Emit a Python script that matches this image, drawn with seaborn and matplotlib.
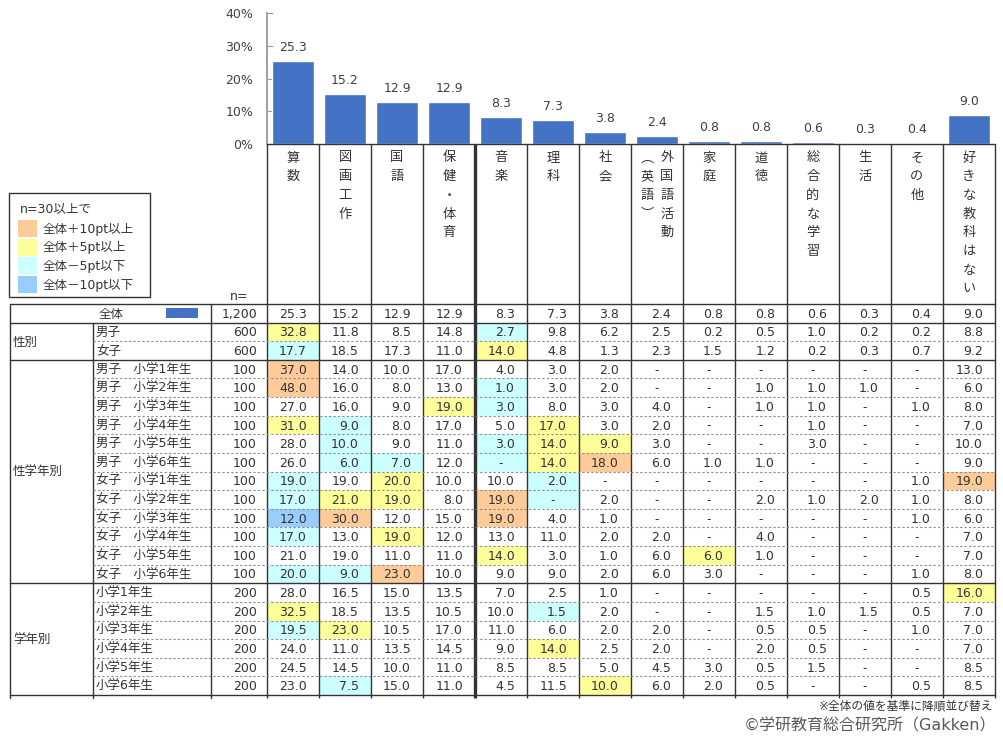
import numpy as np
import matplotlib
matplotlib.use("Agg")
import matplotlib.pyplot as plt
from matplotlib.colors import ListedColormap
from matplotlib.patches import Rectangle
import seaborn as sns

N = np.nan  # "-" in the table

# ---------------- data ----------------
subjects = ['算数', '図画工作', '国語', '保健・体育', '音楽', '理科', '社会',
            '外国語活動（英語）', '家庭', '道徳', '総合的な学習', '生活', 'その他',
            '好きな教科はない']
# vertical header text, one string per text column (right to left)
header_cols = [['算数'], ['図画工作'], ['国語'], ['保健・体育'], ['音楽'], ['理科'],
               ['社会'], ['外国語活動', '︵英語︶'], ['家庭'], ['道徳'], ['総合的な学習'],
               ['生活'], ['その他'], ['好きな教科はない']]

overall = [25.3, 15.2, 12.9, 12.9, 8.3, 7.3, 3.8, 2.4, 0.8, 0.8, 0.6, 0.3, 0.4, 9.0]
overall_n = 1200

gender_labels = ['男子', '女子']
gender_n = [600, 600]
gender_vals = [
    [32.8, 11.8, 8.5, 14.8, 2.7, 9.8, 6.2, 2.5, 0.2, 0.5, 1.0, 0.2, 0.2, 8.8],
    [17.7, 18.5, 17.3, 11.0, 14.0, 4.8, 1.3, 2.3, 1.5, 1.2, 0.2, 0.3, 0.7, 9.2],
]

gg_labels = ['男子　小学1年生', '男子　小学2年生', '男子　小学3年生', '男子　小学4年生',
             '男子　小学5年生', '男子　小学6年生', '女子　小学1年生', '女子　小学2年生',
             '女子　小学3年生', '女子　小学4年生', '女子　小学5年生', '女子　小学6年生']
gg_n = [100] * 12
gg_vals = [
    [37.0, 14.0, 10.0, 17.0, 4.0, 3.0, 2.0, N, N, N, N, N, N, 13.0],
    [48.0, 16.0, 8.0, 13.0, 1.0, 3.0, 2.0, N, N, 1.0, 1.0, 1.0, N, 6.0],
    [27.0, 16.0, 9.0, 19.0, 3.0, 8.0, 3.0, 4.0, N, 1.0, 1.0, N, 1.0, 8.0],
    [31.0, 9.0, 8.0, 17.0, 5.0, 17.0, 3.0, 2.0, N, N, 1.0, N, N, 7.0],
    [28.0, 10.0, 9.0, 11.0, 3.0, 14.0, 9.0, 3.0, N, N, 3.0, N, N, 10.0],
    [26.0, 6.0, 7.0, 12.0, N, 14.0, 18.0, 6.0, 1.0, 1.0, N, N, N, 9.0],
    [19.0, 19.0, 20.0, 10.0, 10.0, 2.0, N, N, N, N, N, N, 1.0, 19.0],
    [17.0, 21.0, 19.0, 8.0, 19.0, N, 2.0, N, N, 2.0, 1.0, 2.0, 1.0, 8.0],
    [12.0, 30.0, 12.0, 15.0, 19.0, 4.0, 1.0, N, N, N, N, N, 1.0, 6.0],
    [17.0, 13.0, 19.0, 12.0, 13.0, 11.0, 2.0, 2.0, N, 4.0, N, N, N, 7.0],
    [21.0, 19.0, 11.0, 11.0, 14.0, 3.0, 1.0, 6.0, 6.0, 1.0, N, N, N, 7.0],
    [20.0, 9.0, 23.0, 10.0, 9.0, 9.0, 2.0, 6.0, 3.0, N, N, N, 1.0, 8.0],
]

grade_labels = ['小学1年生', '小学2年生', '小学3年生', '小学4年生', '小学5年生', '小学6年生']
grade_n = [200] * 6
grade_vals = [
    [28.0, 16.5, 15.0, 13.5, 7.0, 2.5, 1.0, N, N, N, N, N, 0.5, 16.0],
    [32.5, 18.5, 13.5, 10.5, 10.0, 1.5, 2.0, N, N, 1.5, 1.0, 1.5, 0.5, 7.0],
    [19.5, 23.0, 10.5, 17.0, 11.0, 6.0, 2.0, 2.0, N, 0.5, 0.5, N, 1.0, 7.0],
    [24.0, 11.0, 13.5, 14.5, 9.0, 14.0, 2.5, 2.0, N, 2.0, 0.5, N, N, 7.0],
    [24.5, 14.5, 10.0, 11.0, 8.5, 8.5, 5.0, 4.5, 3.0, 0.5, 1.5, N, N, 8.5],
    [23.0, 7.5, 15.0, 11.0, 4.5, 11.5, 10.0, 6.0, 2.0, 0.5, N, N, 0.5, 8.5],
]

groups = [('性別', gender_labels, gender_n),
          ('性学年別', gg_labels, gg_n),
          ('学年別', grade_labels, grade_n)]

legend_labels = ['全体＋10pt以上', '全体＋5pt以上', '全体－5pt以下', '全体－10pt以下']
level_colors = ['#99CCFF', '#CCFFFF', '#FFFFFF', '#FFFF99', '#FFCC99']

# ---------------- layout (pixels) ----------------
W, H = 1004, 741
X0, CW = 267, 52                 # first subject column, column width
Y_TOP, Y_HDR, Y_TAB = 13, 144, 304
RH = 18.62
X_OUT, X_GRP, X_N = 10, 93, 211
LC = '#333333'
TC = '#333333'

sns.set_style('white')
plt.rcParams['font.family'] = ['DejaVu Sans', 'Noto Sans CJK JP']

fig = plt.figure(figsize=(W / 100, H / 100), dpi=100)

# ---------------- bar chart ----------------
bax = fig.add_axes([X0 / W, (H - Y_HDR) / H, CW * 14 / W, (Y_HDR - Y_TOP) / H])
sns.barplot(x=subjects, y=overall, color='#4472C4', saturation=1, width=0.79, ax=bax)
bax.bar_label(bax.containers[0], fmt='%.1f', padding=5, fontsize=9, color='#404040')
bax.set_ylim(0, 40)
bax.set_xlim(-0.5, 13.5)
bax.set_xticks([])
bax.set_yticks([0, 10, 20, 30, 40])
bax.set_yticklabels([f'{v}%' for v in range(0, 41, 10)], fontsize=9, color='#404040')
bax.tick_params(axis='y', direction='in', length=4, color='#999999', pad=10, left=True)
for s in ['top', 'right', 'bottom']:
    bax.spines[s].set_visible(False)
bax.spines['left'].set_color('#999999')
bax.spines['left'].set_linewidth(1.3)
bax.set_facecolor('none')

# ---------------- table cells (heatmap) ----------------
table = np.array([overall] + gender_vals + gg_vals + grade_vals, dtype=float)
nrow = table.shape[0]
diff = np.round(np.nan_to_num(table, nan=0.0) - np.array(overall), 1)
level = np.full(diff.shape, 2)
level[diff >= 5] = 3
level[diff >= 10] = 4
level[diff <= -5] = 1
level[diff <= -10] = 0

hax = fig.add_axes([X0 / W, (H - Y_TAB - RH * nrow) / H, CW * 14 / W, RH * nrow / H])
sns.heatmap(level, cmap=ListedColormap(level_colors), vmin=-0.5, vmax=4.5, cbar=False,
            xticklabels=False, yticklabels=False, ax=hax)
hax.axis('off')
base = 4.5 / RH
for i in range(nrow):
    for j in range(table.shape[1]):
        v = table[i, j]
        if np.isnan(v):
            hax.text(j + 0.5, i + 0.5 + base, '-', ha='center', va='baseline',
                     fontsize=9, color=TC)
        else:
            hax.text(j + 1 - 0.23, i + 0.5 + base, f'{v:.1f}', ha='right',
                     va='baseline', fontsize=9, color=TC)

# ---------------- overlay: lines, labels, legend ----------------
ov = fig.add_axes([0, 0, 1, 1])
ov.set_xlim(0, W)
ov.set_ylim(H, 0)
ov.axis('off')

right = X0 + CW * 14
y_bot = Y_TAB + RH * nrow
row_y = lambda r: Y_TAB + RH * r

# column verticals (header + table)
for k in range(15):
    x = X0 + CW * k
    ov.plot([x, x], [Y_HDR, y_bot + 3], color=LC, lw=2.4 if k == 4 else 1.0,
            solid_capstyle='butt')
for x, y0 in [(X_OUT, Y_TAB), (X_GRP, row_y(1)), (X_N, Y_TAB)]:
    ov.plot([x, x], [y0, y_bot + 3], color=LC, lw=1.0)

# horizontals
ov.plot([X0, right], [Y_HDR, Y_HDR], color=LC, lw=1.0)
solid_rows = [0, 1, 3, 15, 21]
for r in solid_rows:
    ov.plot([X_OUT, right], [row_y(r), row_y(r)], color=LC, lw=1.0)
for r in range(1, nrow):
    if r not in solid_rows:
        ov.plot([X_GRP, right], [row_y(r), row_y(r)], color='#8a8a8a', lw=0.8,
                linestyle=(0, (2, 2)))

# header texts (vertical)
for j, cols in enumerate(header_cols):
    cx = X0 + CW * (j + 0.5)
    offs = [0] if len(cols) == 1 else [10, -10]
    for col, off in zip(cols, offs):
        for i, ch in enumerate(col):
            ov.text(cx + off, 158 + 18.7 * i, ch, ha='center', va='center',
                    fontsize=9.5, color=TC)

ov.text(239, 296, 'n=', ha='center', va='center', fontsize=9, color=TC)

# row labels
ov.text(111, row_y(0.5) + 4.5, '全体', ha='center', va='baseline', fontsize=9, color=TC)
ov.add_patch(Rectangle((166, row_y(0.5) - 5), 32, 10, color='#4472C4', lw=0))
ov.text(X0 - 10, row_y(0.5) + 4.5, f'{overall_n:,}', ha='right', va='baseline',
        fontsize=9, color=TC)
r = 1
for gname, labels, ns in groups:
    ov.text(13, (row_y(r) + row_y(r + len(labels))) / 2 + 4.5, gname, ha='left',
            va='baseline', fontsize=9, color=TC)
    for lab, n in zip(labels, ns):
        ov.text(96, row_y(r + 0.5) + 4.5, lab, ha='left', va='baseline',
                fontsize=9, color=TC)
        ov.text(X0 - 10, row_y(r + 0.5) + 4.5, f'{n:,}', ha='right', va='baseline',
                fontsize=9, color=TC)
        r += 1

# legend box
ov.add_patch(Rectangle((9.5, 193), 141, 104, fill=False, edgecolor=LC, lw=1.0))
ov.text(20, 209, 'n=30以上で', ha='left', va='center', fontsize=9, color=TC)
for k, (lab, colr) in enumerate(zip(legend_labels, level_colors[::-1][:2] + level_colors[:2][::-1])):
    y = 220 + 18.7 * k
    ov.add_patch(Rectangle((18, y), 19, 17, color=colr, lw=0))
    ov.text(43, y + 9, lab, ha='left', va='center', fontsize=9, color=TC)

# notes
ov.text(993, 706, '※全体の値を基準に降順並び替え', ha='right', va='center',
        fontsize=8.5, color=TC)
ov.text(996, 726, '©学研教育総合研究所（Gakken）', ha='right', va='center',
        fontsize=11.5, color='#595959')

fig.savefig('out.png', dpi=100)
